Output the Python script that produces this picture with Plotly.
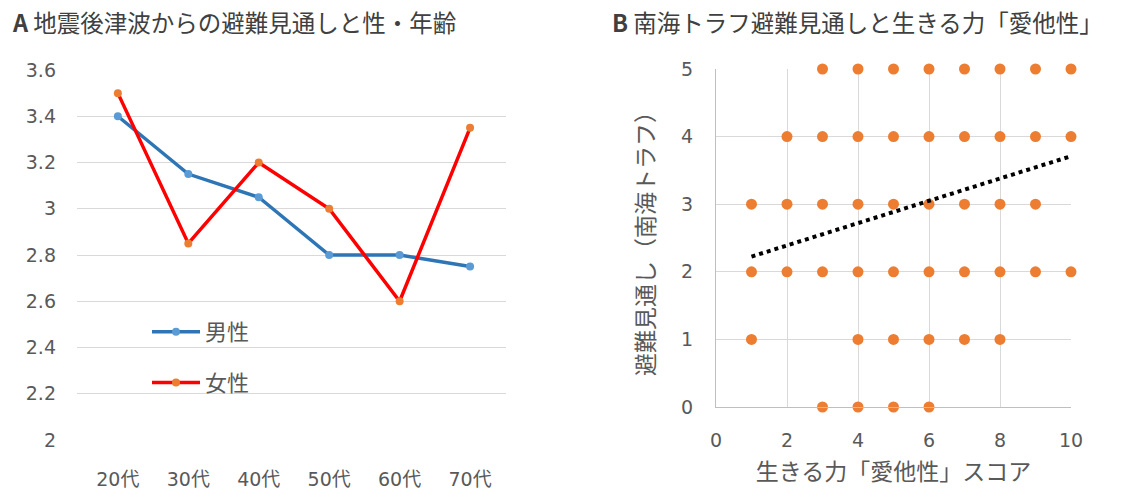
import plotly.graph_objects as go

# Panel A: evacuation outlook after earthquake tsunami, by sex and age group
age_groups = ["20代", "30代", "40代", "50代", "60代", "70代"]
male_scores = [3.4, 3.15, 3.05, 2.8, 2.8, 2.75]
female_scores = [3.5, 2.85, 3.2, 3.0, 2.6, 3.35]
a_yticks = [2, 2.2, 2.4, 2.6, 2.8, 3, 3.2, 3.4, 3.6]
a_yticklabels = ["2", "2.2", "2.4", "2.6", "2.8", "3", "3.2", "3.4", "3.6"]

# Panel B: Nankai Trough evacuation outlook vs. altruism score
altruism_score = [3, 4, 5, 6, 7, 8, 9, 10,
                  2, 3, 4, 5, 6, 7, 8, 9, 10,
                  1, 2, 3, 4, 5, 6, 7, 8, 9,
                  1, 2, 3, 4, 5, 6, 7, 8, 9, 10,
                  1, 4, 5, 6, 7, 8,
                  3, 4, 5, 6]
outlook_nankai = [5] * 8 + [4] * 9 + [3] * 9 + [2] * 10 + [1] * 6 + [0] * 4
trend_intercept = 2.06
trend_slope = 0.165
trend_x = [1, 10]

FONT = "Noto Sans CJK JP, sans-serif"
NUMFONT = "DejaVu Sans, Noto Sans CJK JP, sans-serif"
TXT = "#595959"
GRID = "#D9D9D9"

fig = go.Figure()

fig.add_trace(go.Scatter(
    x=age_groups, y=male_scores, name="男性", mode="lines+markers",
    line=dict(color="#2E75B6", width=3.5),
    marker=dict(color="#5B9BD5", size=8),
    legendgroup="m", xaxis="x", yaxis="y",
))
fig.add_trace(go.Scatter(
    x=age_groups, y=female_scores, name="女性", mode="lines+markers",
    line=dict(color="#FF0000", width=3.5),
    marker=dict(color="#ED7D31", size=8),
    legendgroup="f", xaxis="x", yaxis="y",
))

fig.add_trace(go.Scatter(
    x=altruism_score, y=outlook_nankai, mode="markers",
    marker=dict(color="#ED7D31", size=11),
    showlegend=False, cliponaxis=False, xaxis="x2", yaxis="y2",
))
fig.add_trace(go.Scatter(
    x=trend_x, y=[trend_intercept + trend_slope * v for v in trend_x],
    mode="lines", line=dict(color="black", width=4, dash="dot"),
    showlegend=False, xaxis="x2", yaxis="y2",
))

W, H = 1135, 493

fig.update_layout(
    width=W, height=H,
    margin=dict(l=0, r=0, t=0, b=0, pad=0, autoexpand=False),
    paper_bgcolor="white", plot_bgcolor="white",
    font=dict(family=FONT, color=TXT, size=20),
    showlegend=True,
    legend=dict(
        x=147 / W, y=1 - 311 / H, xanchor="left", yanchor="top",
        bgcolor="rgba(0,0,0,0)", font=dict(size=22, color=TXT),
        tracegroupgap=19, itemwidth=48,
    ),
    xaxis=dict(
        domain=[77 / W, 506 / W], anchor="y", automargin=False,
        range=[-0.58, 5.51],
        showgrid=False, zeroline=False, showline=False, ticks="",
        tickfont=dict(size=19, color=TXT, family=NUMFONT), ticklabelstandoff=26,
    ),
    yaxis=dict(
        domain=[1 - 440 / H, 1 - 70 / H], anchor="x", automargin=False,
        range=[2, 3.6], tickvals=a_yticks, ticktext=a_yticklabels,
        showgrid=True, gridcolor=GRID, gridwidth=1, zeroline=False,
        showline=False, ticks="", tickfont=dict(size=19, color=TXT, family=NUMFONT),
        ticklabelstandoff=20,
    ),
    xaxis2=dict(
        domain=[716 / W, 1071 / W], anchor="y2", automargin=False,
        range=[0, 10], tickvals=[0, 2, 4, 6, 8, 10],
        showgrid=True, gridcolor=GRID, zeroline=False,
        showline=True, linecolor="#BFBFBF", ticks="",
        tickfont=dict(size=19, color=TXT, family=NUMFONT), ticklabelstandoff=16,
        title=dict(text="生きる力「愛他性」スコア", font=dict(size=23, color=TXT), standoff=14),
    ),
    yaxis2=dict(
        domain=[1 - 407 / H, 1 - 69 / H], anchor="x2", automargin=False,
        range=[0, 5], tickvals=[0, 1, 2, 3, 4, 5],
        showgrid=True, gridcolor=GRID, zeroline=False,
        showline=True, linecolor="#BFBFBF", ticks="",
        tickfont=dict(size=19, color=TXT, family=NUMFONT), ticklabelstandoff=18,
        title=dict(text="避難見通し（南海トラフ）", font=dict(size=23, color=TXT), standoff=20),
    ),
    annotations=[
        dict(text="<b>A</b> 地震後津波からの避難見通しと性・年齢",
             x=10 / W, y=1 - 22 / H, xref="paper", yref="paper",
             xanchor="left", yanchor="middle", showarrow=False,
             font=dict(size=23.5, color="#404040", family=FONT)),
        dict(text="<b>B</b> 南海トラフ避難見通しと生きる力「愛他性」",
             x=610 / W, y=1 - 22 / H, xref="paper", yref="paper",
             xanchor="left", yanchor="middle", showarrow=False,
             font=dict(size=23.5, color="#404040", family=FONT)),
    ],
)

fig.write_html("out.html")
